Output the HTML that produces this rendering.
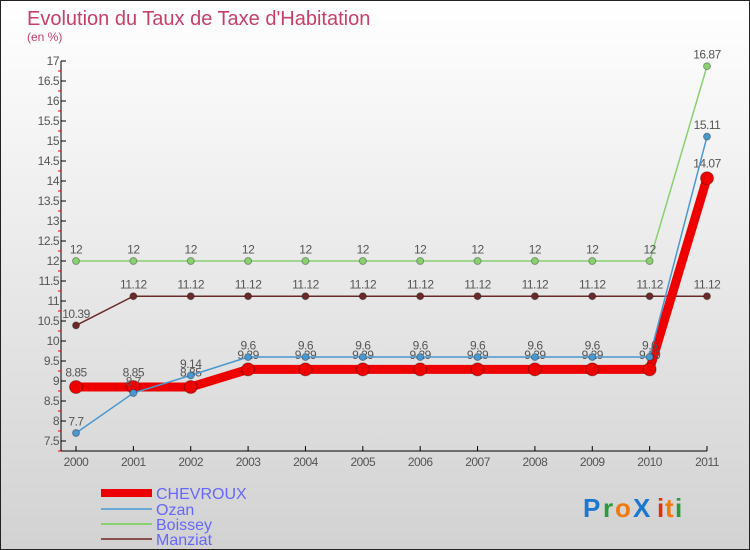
<!DOCTYPE html>
<html><head><meta charset="utf-8"><style>
body{margin:0}
#c{width:748px;height:548px;border:1px solid #222;background:linear-gradient(#fff,#d2d2d2);position:relative;font-family:"Liberation Sans",sans-serif;overflow:hidden}
svg{position:absolute;left:0;top:0}
</style></head><body>
<div id="c">
<svg id="s" width="750" height="550">
<text x="26" y="24" font-size="20" fill="#c8406a">Evolution du Taux de Taxe d'Habitation</text>
<text x="26" y="40" font-size="12" fill="#c8406a">(en %)</text>
<g id="axes"></g><g id="series"></g>
<g>
<line x1="100" y1="492" x2="151" y2="492" stroke="#e00" stroke-width="8"/>
<text x="155" y="498" font-size="16" fill="#6666ff">CHEVROUX</text>
<line x1="100" y1="508" x2="151" y2="508" stroke="#6aaad8" stroke-width="2"/>
<text x="155" y="514" font-size="16" fill="#6666ff">Ozan</text>
<line x1="100" y1="523" x2="151" y2="523" stroke="#88d070" stroke-width="2"/>
<text x="155" y="529" font-size="16" fill="#6666ff">Boissey</text>
<line x1="100" y1="538" x2="151" y2="538" stroke="#8a5050" stroke-width="2"/>
<text x="155" y="544" font-size="16" fill="#6666ff">Manziat</text>
</g>
<g font-size="26" font-weight="bold">
<text x="582" y="516" fill="#1a78d0">P</text><text x="602" y="516" fill="#2a9a3a">r</text><text x="614" y="516" fill="#f07a10">o</text><text x="632" y="516" fill="#1a78d0">X</text><text x="656" y="516" fill="#e03010">i</text><text x="664" y="516" fill="#f07a10">t</text><text x="674" y="516" fill="#2a9a3a">i</text>
</g>
</svg></div>
<script>
const years=["2000","2001","2002","2003","2004","2005","2006","2007","2008","2009","2010","2011"];
const yTicks=[7.5,8,8.5,9,9.5,10,10.5,11,11.5,12,12.5,13,13.5,14,14.5,15,15.5,16,16.5,17];
const chevroux=[8.85,8.85,8.85,9.29,9.29,9.29,9.29,9.29,9.29,9.29,9.29,14.07];
const ozan=[7.7,8.7,9.14,9.6,9.6,9.6,9.6,9.6,9.6,9.6,9.6,15.11];
const boissey=[12,12,12,12,12,12,12,12,12,12,12,16.87];
const manziat=[10.39,11.12,11.12,11.12,11.12,11.12,11.12,11.12,11.12,11.12,11.12,11.12];
const NS="http://www.w3.org/2000/svg";
const X=i=>75+i*(706-75)/11, Y=v=>60+(17-v)*40;
function mk(t,a,p){const e=document.createElementNS(NS,t);for(const k in a)e.setAttribute(k,a[k]);p.appendChild(e);return e;}
const ax=document.getElementById('axes'), sg=document.getElementById('series');
let l=mk('line',{x1:60,y1:60,x2:60,y2:450,stroke:'#000'},ax);


l=mk('line',{x1:60,y1:450,x2:706,y2:450,stroke:'#000'},ax);


yTicks.forEach(v=>{const y=Y(v);
 mk('line',{x1:60,y1:y,x2:65,y2:y,stroke:'#000'},ax);
 mk('line',{x1:57,y1:y+10,x2:60,y2:y+10,stroke:'#e00'},ax);
 const t=mk('text',{x:58,y:y+4,'font-size':12,fill:'#555','text-anchor':'end','letter-spacing':'-0.5'},ax);t.textContent=String(v);
 
 });
years.forEach((yr,i)=>{const x=X(i);
 mk('line',{x1:x,y1:445,x2:x,y2:450,stroke:'#000'},ax);
 const t=mk('text',{x:x,y:465,'font-size':12,fill:'#555','text-anchor':'middle','letter-spacing':'-0.5'},ax);t.textContent=yr;
 
 });
function series(d,col,w,r,name){
 const g=mk('g',{},sg);
 
 
 mk('polyline',{points:d.map((v,i)=>X(i)+','+Y(v)).join(' '),fill:'none',stroke:col,'stroke-width':w,'stroke-linejoin':'round'},g);
 d.forEach((v,i)=>{const c=mk('circle',{cx:X(i),cy:Y(v),r:r,fill:col,stroke:'rgba(0,0,0,0.3)'},g);
  
  
  const t=mk('text',{x:X(i),y:Y(v)-r-4,'font-size':12,fill:'#555','text-anchor':'middle','letter-spacing':'-0.5'},g);t.textContent=String(v);
  
  });
}
series(boissey,'#88d070',1.5,3.5,'boissey');
series(manziat,'#6a2a2a',1.5,3.5,'manziat');
series(chevroux,'#ee0000',9,6.5,'chevroux');
series(ozan,'#4a98d0',1.5,3.5,'ozan');
</script></body></html>
